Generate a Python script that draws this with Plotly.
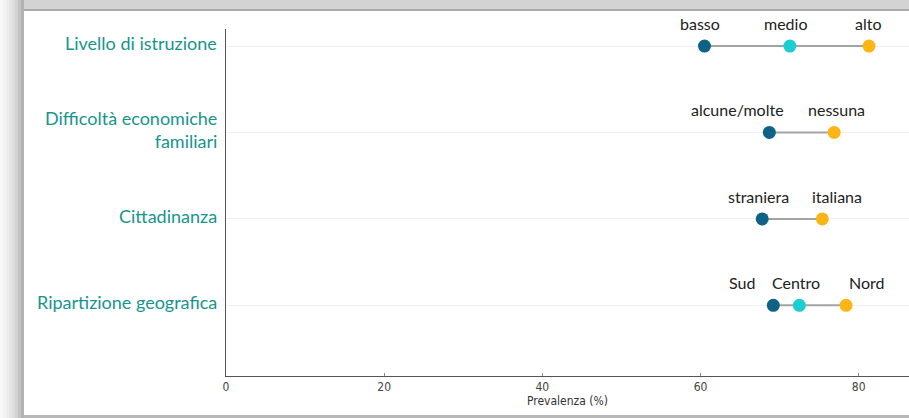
import plotly.graph_objects as go

W, H = 909, 418
ML, MR, MT, MB = 226, 0, 29, 42

categories = ["Livello di istruzione", "Difficoltà economiche<br>familiari", "Cittadinanza", "Ripartizione geografica"]
cat_y = [3, 2, 1, 0]

# groups per category: (label, value, colour key)
group_labels = [["basso", "medio", "alto"], ["alcune/molte", "nessuna"], ["straniera", "italiana"], ["Sud", "Centro", "Nord"]]
group_values = [[60.5, 71.3, 81.3], [68.7, 76.9], [67.8, 75.4], [69.2, 72.5, 78.4]]
group_kinds = [["low", "mid", "high"], ["low", "high"], ["low", "high"], ["low", "mid", "high"]]

# horizontal nudges (px) of the value labels, as placed in the original
label_shift = [[-4, -4, 0], [-32, 2], [-4, 15], [-31, -3, 21]]

x_ticks = [0, 20, 40, 60, 80]
x_title = "Prevalenza (%)"

colors = {"low": "#0d6285", "mid": "#1ccdd1", "high": "#fdb515"}
teal = "#16958c"
narrow = "DejaVu Sans Condensed, Liberation Sans Narrow, Roboto, sans-serif"

fig = go.Figure()

# connecting lines
for y, vals in zip(cat_y, group_values):
    fig.add_trace(go.Scatter(x=[min(vals), max(vals)], y=[y, y], mode="lines",
                             line=dict(color="#a3a3a3", width=2), hoverinfo="skip", showlegend=False))

# markers by kind
for kind in ["low", "mid", "high"]:
    xs, ys = [], []
    for y, vals, kinds in zip(cat_y, group_values, group_kinds):
        for v, k in zip(vals, kinds):
            if k == kind:
                xs.append(v); ys.append(y)
    fig.add_trace(go.Scatter(x=xs, y=ys, mode="markers",
                             marker=dict(color=colors[kind], size=13, line=dict(width=0)),
                             showlegend=False))

annotations = []
for y, vals, labs, shifts in zip(cat_y, group_values, group_labels, label_shift):
    for v, lab, s in zip(vals, labs, shifts):
        annotations.append(dict(x=v, y=y, xref="x", yref="y", text=lab, showarrow=False,
                                yanchor="bottom", yshift=11, xshift=s,
                                font=dict(family="Lato", size=16, color="#222222")))

for y, cat in zip(cat_y, categories):
    annotations.append(dict(x=0, y=y, xref="paper", yref="y", text=cat, showarrow=False,
                            xanchor="right", yanchor="middle", align="right", xshift=-7, yshift=3,
                            font=dict(family="Lato", size=18, color=teal)))

def px_x(x):
    return (x - ML) / (W - ML - MR)

def px_y(y):
    return (H - MB - y) / (H - MT - MB)

shapes = []
# frame: top band
shapes.append(dict(type="rect", xref="paper", yref="paper", x0=px_x(0), x1=px_x(W), y0=px_y(0), y1=px_y(9),
                   fillcolor="#d3d3d3", line=dict(width=0), layer="above"))
shapes.append(dict(type="rect", xref="paper", yref="paper", x0=px_x(24), x1=px_x(W), y0=px_y(9), y1=px_y(11),
                   fillcolor="#ababab", line=dict(width=0), layer="above"))
# left gradient band
left_cols = ["#f8f8f8", "#f3f3f3", "#ededed", "#e6e6e6", "#dddddd", "#d2d2d2", "#c4c4c4", "#b3b3b3"]
for i, c in enumerate(left_cols):
    shapes.append(dict(type="rect", xref="paper", yref="paper", x0=px_x(i * 3), x1=px_x(i * 3 + 3),
                       y0=px_y(H), y1=px_y(0), fillcolor=c, line=dict(width=0), layer="above"))
# bottom line
shapes.append(dict(type="rect", xref="paper", yref="paper", x0=px_x(24), x1=px_x(W), y0=px_y(H), y1=px_y(415),
                   fillcolor="#b8b8b8", line=dict(width=0), layer="above"))

fig.update_layout(
    width=W, height=H,
    margin=dict(l=ML, r=MR, t=MT, b=MB, pad=0),
    paper_bgcolor="white", plot_bgcolor="white",
    showlegend=False,
    annotations=annotations,
    shapes=shapes,
    xaxis=dict(range=[0, 86.36], tickvals=x_ticks, ticktext=[str(t) for t in x_ticks],
               showgrid=False, zeroline=False, showline=True, linecolor="#555555", linewidth=1,
               ticks="inside", ticklen=3, tickcolor="#888888",
               tickfont=dict(family=narrow, size=12, color="#444444"),
               title=dict(text=x_title, standoff=2,
                          font=dict(family=narrow, size=12, color="#333333"))),
    yaxis=dict(range=[-0.818, 3.197], tickvals=cat_y, showticklabels=False,
               showgrid=True, gridcolor="#efefef", gridwidth=1, zeroline=False,
               showline=True, linecolor="#555555", linewidth=1),
)

fig.write_html("out.html", config={"displayModeBar": False},
               post_script="document.body.style.margin='0px';document.body.style.overflow='hidden';")
